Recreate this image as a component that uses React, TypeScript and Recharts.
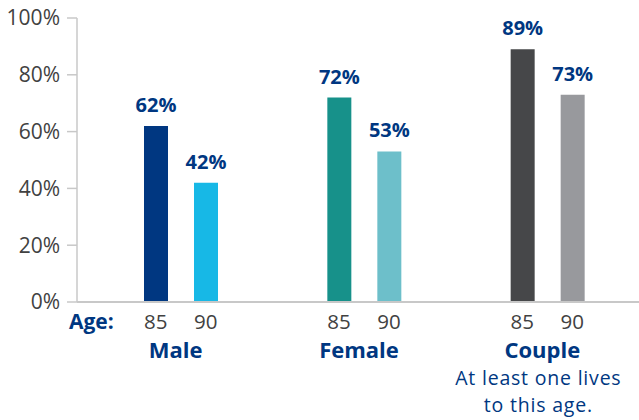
import React from 'react';
import { BarChart, Bar, XAxis, YAxis, Cell, LabelList } from 'recharts';

const groups = ['Male', 'Female', 'Couple'];
const ages = ['85', '90'];
const age85 = [62, 72, 89];
const age90 = [42, 53, 73];
const yTicks = [0, 20, 40, 60, 80, 100];
const colors85 = ['#003781', '#17918A', '#464749'];
const colors90 = ['#17B8E6', '#6DBFCA', '#98999D'];
const ageLabel = 'Age:';
const coupleNote = ['At least one lives', 'to this age.'];

const data = groups.map((g, i) => ({ group: g, a85: age85[i], a90: age90[i] }));

const NAVY = '#003781';
const GREY_TEXT = '#414141';
const AXIS = '#C8C8C8';
const FONT = '"Open Sans", sans-serif';

const GroupTick = (props: any) => {
  const { x, y, payload, index } = props;
  const half = 25;
  return (
    <g>
      {index === 0 && (
        <text x={x - 67} y={y + 27} textAnchor="end" fill={NAVY} fontWeight={700} fontSize={21} fontFamily={FONT}>
          {ageLabel}
        </text>
      )}
      <text x={x - half} y={y + 27} textAnchor="middle" fill={GREY_TEXT} fontSize={20.5} fontFamily={FONT}>
        {ages[0]}
      </text>
      <text x={x + half} y={y + 27} textAnchor="middle" fill={GREY_TEXT} fontSize={20.5} fontFamily={FONT}>
        {ages[1]}
      </text>
      <text x={x - 5} y={y + 56} textAnchor="middle" fill={NAVY} fontWeight={700} fontSize={22} fontFamily={FONT}>
        {payload.value}
      </text>
      {payload.value === 'Couple' &&
        coupleNote.map((line, i) => (
          <text
            key={i}
            x={x - 9}
            y={y + 83 + i * 27}
            textAnchor="middle"
            fill={NAVY}
            fontSize={19.5}
            letterSpacing={0.8}
            fontFamily={FONT}
          >
            {line}
          </text>
        ))}
    </g>
  );
};

export default function App() {
  return (
    <div style={{ position: 'absolute', left: 0, top: 0, width: 639, height: 420, background: '#fff' }}>
      <BarChart
        width={639}
        height={420}
        data={data}
        margin={{ top: 18, right: 0, bottom: 0, left: 0 }}
        barSize={24}
        barGap={26}
      >
        <YAxis
          type="number"
          domain={[0, 100]}
          ticks={yTicks}
          width={77}
          tickFormatter={(v: number) => `${v}%`}
          axisLine={{ stroke: AXIS, strokeWidth: 1.5 }}
          tickLine={{ stroke: AXIS, strokeWidth: 1.5 }}
          tickSize={10}
          tickMargin={7}
          tick={{ fill: GREY_TEXT, fontSize: 21, fontFamily: FONT }}
        />
        <XAxis
          dataKey="group"
          height={118}
          axisLine={{ stroke: AXIS, strokeWidth: 2 }}
          tickLine={false}
          tickSize={0}
          tickMargin={0}
          padding={{ left: 12, right: 0 }}
          interval={0}
          tick={<GroupTick />}
        />
        <Bar dataKey="a85" isAnimationActive={false}>
          {data.map((d, i) => (
            <Cell key={d.group} fill={colors85[i]} />
          ))}
          <LabelList
            dataKey="a85"
            position="top"
            offset={14}
            formatter={(v: number) => `${v}%`}
            fill={NAVY}
            fontWeight={700}
            fontSize={20}
            fontFamily={FONT}
          />
        </Bar>
        <Bar dataKey="a90" isAnimationActive={false}>
          {data.map((d, i) => (
            <Cell key={d.group} fill={colors90[i]} />
          ))}
          <LabelList
            dataKey="a90"
            position="top"
            offset={14}
            formatter={(v: number) => `${v}%`}
            fill={NAVY}
            fontWeight={700}
            fontSize={20}
            fontFamily={FONT}
          />
        </Bar>
      </BarChart>
    </div>
  );
}
